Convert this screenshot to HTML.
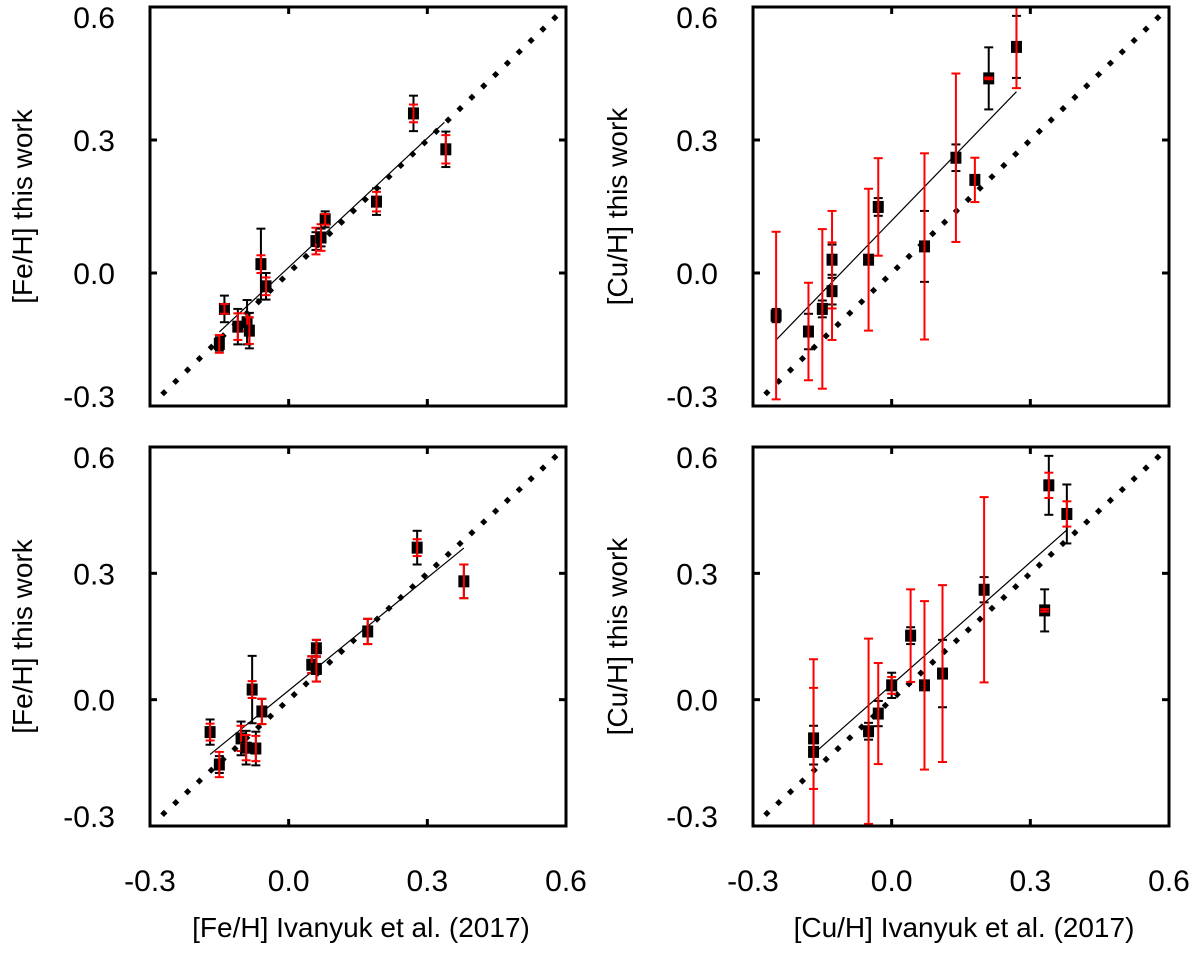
<!DOCTYPE html>
<html><head><meta charset="utf-8"><style>
html,body{margin:0;padding:0;background:#fff;}
svg{display:block;}
text{font-family:"Liberation Sans",Arial,sans-serif;fill:#000;}
</style></head><body>
<svg id="fig" width="1200" height="958" viewBox="0 0 1200 958" xmlns="http://www.w3.org/2000/svg"></svg>
<script>
// ---- data: top-left [Fe/H] ----
const tlX = [-0.150,-0.139,-0.110,-0.090,-0.085,-0.060,-0.049,0.059,0.070,0.079,0.190,0.270,0.340];
const tlY = [-0.160,-0.081,-0.121,-0.111,-0.130,0.020,-0.030,0.072,0.080,0.121,0.161,0.360,0.279];
const tlBlack = [0.015,0.030,0.040,0.050,0.040,0.080,0.030,0.020,0.020,0.018,0.030,0.040,0.040];
const tlRed = [0.020,0.011,0.030,0.020,0.030,0.020,0.020,0.030,0.030,0.012,0.022,0.020,0.032];
const tlFit = [[-0.150,-0.133],[0.337,0.340]];
// ---- data: top-right [Cu/H] ----
const trX = [-0.250,-0.180,-0.150,-0.129,-0.129,-0.050,-0.029,0.071,0.139,0.180,0.210,0.270];
const trY = [-0.096,-0.132,-0.081,0.030,-0.041,0.030,0.149,0.060,0.260,0.210,0.439,0.510];
const trBlack = [0.015,0.040,0.019,0.034,0.030,0.010,0.020,0.080,0.030,0.010,0.070,0.070];
const trRed = [0.189,0.110,0.180,0.110,0.110,0.160,0.110,0.210,0.190,0.050,0.002,0.093];
const trFit = [[-0.250,-0.151],[0.270,0.409]];
// ---- data: bottom-left [Fe/H] ----
const blX = [-0.170,-0.150,-0.103,-0.092,-0.071,-0.079,-0.058,0.050,0.060,0.060,0.171,0.278,0.379];
const blY = [-0.077,-0.154,-0.092,-0.114,-0.116,0.024,-0.028,0.083,0.122,0.073,0.162,0.361,0.281];
const blBlack = [0.030,0.020,0.040,0.040,0.040,0.080,0.030,0.020,0.020,0.030,0.030,0.040,0.040];
const blRed = [0.020,0.030,0.030,0.030,0.030,0.020,0.030,0.020,0.020,0.030,0.030,0.020,0.040];
const blFit = [[-0.170,-0.130],[0.379,0.360]];
// ---- data: bottom-right [Cu/H] ----
const brX = [-0.169,-0.169,-0.050,-0.029,0.000,0.041,0.071,0.110,0.200,0.331,0.340,0.379];
const brY = [-0.092,-0.124,-0.075,-0.033,0.034,0.152,0.034,0.062,0.261,0.212,0.509,0.441];
const brBlack = [0.030,0.030,0.020,0.030,0.030,0.020,0.010,0.080,0.030,0.050,0.070,0.070];
const brRed = [0.120,0.220,0.220,0.120,0.020,0.110,0.200,0.210,0.220,0.003,0.030,0.030];
const brFit = [[-0.160,-0.120],[0.379,0.403]];
// ---- ticks ----
const tickVals = [-0.3,0.0,0.3,0.6];
const tickLabels = ["-0.3","0.0","0.3","0.6"];

const NS="http://www.w3.org/2000/svg";
const svg=document.getElementById('fig');
function mk(tag,attrs,parent){const e=document.createElementNS(NS,tag);for(const k in attrs)e.setAttribute(k,attrs[k]);(parent||svg).appendChild(e);return e;}

const panels=[
 {id:'fe-top',x0:150,x1:566,y0:7,y1:406,X:tlX,Y:tlY,B:tlBlack,R:tlRed,F:tlFit,ytitle:'[Fe/H] this work',xlab:false,tx:22},
 {id:'cu-top',x0:753,x1:1169,y0:7,y1:406,X:trX,Y:trY,B:trBlack,R:trRed,F:trFit,ytitle:'[Cu/H] this work',xlab:false,tx:617},
 {id:'fe-bottom',x0:150,x1:566,y0:447,y1:826,X:blX,Y:blY,B:blBlack,R:blRed,F:blFit,ytitle:'[Fe/H] this work',xlab:true,xtitle:'[Fe/H] Ivanyuk et al. (2017)',tx:22},
 {id:'cu-bottom',x0:753,x1:1169,y0:447,y1:826,X:brX,Y:brY,B:brBlack,R:brRed,F:brFit,ytitle:'[Cu/H] this work',xlab:true,xtitle:'[Cu/H] Ivanyuk et al. (2017)',tx:617}
];

panels.forEach(p=>{
 const g=mk('g',{});
 
 
 const sx=v=>p.x0+(v+0.3)/0.9*(p.x1-p.x0);
 const sy=v=>p.y1-(v+0.3)/0.9*(p.y1-p.y0);
 const clip='clip-'+p.id;
 const cp=mk('clipPath',{id:clip},g);
 mk('rect',{x:p.x0,y:p.y0,width:p.x1-p.x0,height:p.y1-p.y0},cp);
 const plot=mk('g',{'clip-path':'url(#'+clip+')'},g);
 const dots=mk('g',{},plot);
 
 
 for(let i=0;i<=33;i++){const v=-0.27+i*0.02563;const cx=sx(v),cy=sy(v);
  mk('polygon',{points:(cx-3.6)+','+cy+' '+cx+','+(cy-3.6)+' '+(cx+3.6)+','+cy+' '+cx+','+(cy+3.6),fill:'#000'},dots);}
 const fl=mk('line',{x1:sx(p.F[0][0]),y1:sy(p.F[0][1]),x2:sx(p.F[1][0]),y2:sy(p.F[1][1]),stroke:'#000','stroke-width':1.2},plot);
 
 
 p.X.forEach((xv,i)=>{
  const pg=mk('g',{},plot);
  
  
  const cx=sx(xv),cy=sy(p.Y[i]);
  mk('rect',{x:cx-5.5,y:cy-6,width:11,height:12,fill:'#000'},pg);
  [[p.B[i],'#000'],[p.R[i],'#ff0000']].forEach(([e,c])=>{
   const ya=sy(p.Y[i]+e),yb=sy(p.Y[i]-e);
   mk('line',{x1:cx,y1:ya,x2:cx,y2:yb,stroke:c,'stroke-width':2},pg);
   mk('line',{x1:cx-4.5,y1:ya,x2:cx+4.5,y2:ya,stroke:c,'stroke-width':2},pg);
   mk('line',{x1:cx-4.5,y1:yb,x2:cx+4.5,y2:yb,stroke:c,'stroke-width':2},pg);
  });
 });
 const fr=mk('rect',{x:p.x0,y:p.y0,width:p.x1-p.x0,height:p.y1-p.y0,fill:'none',stroke:'#000','stroke-width':3},g);
 
 
 [0.0,0.3].forEach(v=>{
  mk('line',{x1:sx(v),y1:p.y0,x2:sx(v),y2:p.y0+7,stroke:'#000','stroke-width':3},g);
  mk('line',{x1:sx(v),y1:p.y1,x2:sx(v),y2:p.y1-7,stroke:'#000','stroke-width':3},g);
  mk('line',{x1:p.x0,y1:sy(v),x2:p.x0+7,y2:sy(v),stroke:'#000','stroke-width':3},g);
  mk('line',{x1:p.x1,y1:sy(v),x2:p.x1-7,y2:sy(v),stroke:'#000','stroke-width':3},g);
 });
 tickVals.forEach((v,i)=>{
  const yy=Math.min(Math.max(sy(v),p.y0+10),p.y1-10);
  const t=mk('text',{x:p.x0-35,y:yy+11,'text-anchor':'end','font-size':30},g);
  t.textContent=tickLabels[i];
  
  
 });
 const yc=(p.y0+p.y1)/2;
 const yt=mk('text',{x:p.tx+10,y:yc,'text-anchor':'middle','font-size':28,transform:'rotate(-90 '+(p.tx+10)+' '+yc+')'},g);
 yt.textContent=p.ytitle;
 
 
 if(p.xlab){
  tickVals.forEach((v,i)=>{
   const t=mk('text',{x:sx(v),y:891,'text-anchor':'middle','font-size':30},g);
   t.textContent=tickLabels[i];
   
   
  });
  const xt=mk('text',{x:(p.x0+p.x1)/2+3,y:937,'text-anchor':'middle','font-size':28},g);
  xt.textContent=p.xtitle;
  
  
 }
});
</script>
</body></html>
